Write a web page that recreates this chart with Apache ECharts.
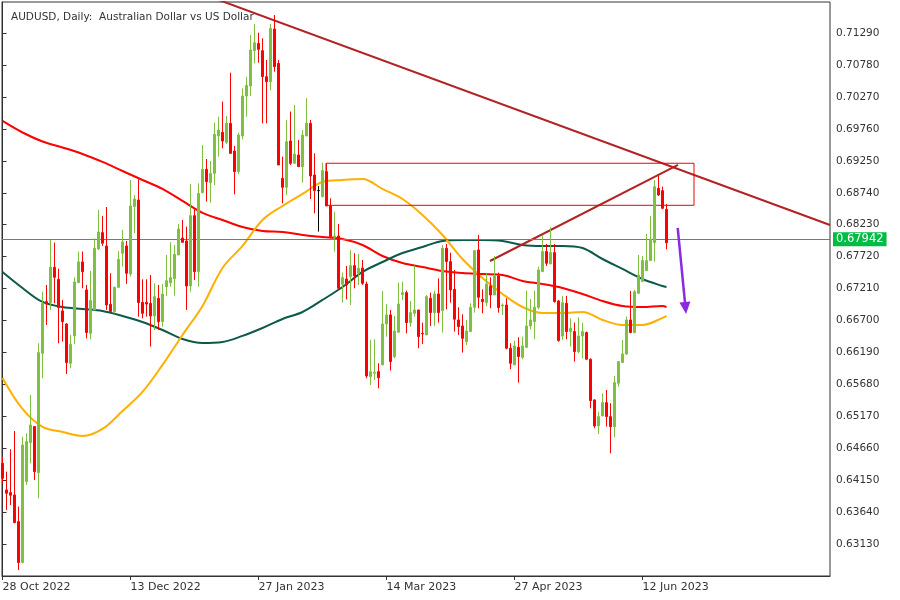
<!DOCTYPE html>
<html><head><meta charset="utf-8">
<script src="https://cdn.jsdelivr.net/npm/echarts@6/dist/echarts.min.js"></script>
<style>html,body{margin:0;padding:0;background:#fff}#c{width:900px;height:600px}</style>
</head><body><div id="c"></div>
<script>
// ---- DATA ----
const openP = [0.64422,0.63997,0.63954,0.63917,0.63491,0.62837,0.64130,0.64752,0.65008,0.64273,
0.66178,0.67003,0.66987,0.67551,0.67359,0.66854,0.66646,0.66018,0.66455,0.67306,
0.67636,0.67189,0.66497,0.66870,0.67843,0.68104,0.67891,0.66960,0.66843,0.67231,
0.67774,0.67891,0.67444,0.68519,0.68625,0.66991,0.66991,0.66975,0.66773,0.67055,
0.66683,0.67241,0.67305,0.67369,0.67747,0.68018,0.67970,0.67252,0.68375,0.67481,
0.68742,0.69114,0.68901,0.69050,0.69646,0.69705,0.69545,0.69848,0.69407,0.69077,
0.69646,0.70284,0.70444,0.71008,0.71125,0.71008,0.70593,0.70513,0.71354,0.70806,
0.68971,0.68827,0.69567,0.69210,0.69343,0.69157,0.69646,0.69849,0.69024,0.68774,
0.68678,0.69077,0.68529,0.68029,0.68050,0.67279,0.67364,0.67401,0.67577,0.67455,
0.67540,0.67284,0.65805,0.65859,0.65885,0.65992,0.66646,0.66790,0.66125,0.66513,
0.67114,0.67146,0.66667,0.66816,0.66869,0.66497,0.66471,0.67056,0.66827,0.67125,
0.66859,0.67854,0.67641,0.67199,0.66710,0.66614,0.66364,0.66524,0.66912,0.67827,
0.67040,0.66987,0.67253,0.67109,0.67412,0.66933,0.66949,0.66258,0.65992,0.66274,
0.66114,0.66274,0.66614,0.66683,0.66912,0.67481,0.67801,0.67604,0.67785,0.67013,
0.66454,0.66976,0.66524,0.66524,0.66204,0.66454,0.66508,0.66082,0.65433,0.65018,
0.65178,0.65390,0.65167,0.65007,0.65699,0.66029,0.66167,0.66710,0.66508,0.67135,
0.67322,0.67497,0.67657,0.67944,0.68811,0.68774,0.68476];
const closeP = [0.64183,0.63944,0.63912,0.63475,0.62837,0.64715,0.64768,0.65034,0.64289,0.66189,
0.66976,0.66965,0.67551,0.67391,0.66907,0.66683,0.66029,0.66322,0.67316,0.67636,
0.67481,0.66508,0.67019,0.67854,0.68114,0.67934,0.66949,0.66843,0.67231,0.67678,
0.67955,0.67455,0.68529,0.68641,0.66987,0.66816,0.66965,0.66773,0.67082,0.66683,
0.67124,0.67337,0.67385,0.67757,0.68162,0.67949,0.67252,0.68375,0.67481,0.68731,
0.69114,0.68917,0.69050,0.69673,0.69742,0.69566,0.69848,0.69369,0.69077,0.69662,
0.70284,0.70455,0.71019,0.71136,0.71029,0.70593,0.70513,0.71364,0.70753,0.69183,
0.68827,0.69556,0.69210,0.69359,0.69157,0.69662,0.69849,0.69008,0.68774,0.68774,
0.69093,0.68529,0.68040,0.68050,0.67215,0.67385,0.67268,0.67577,0.67412,0.67534,
0.67295,0.65816,0.65885,0.65875,0.65789,0.66646,0.66790,0.66045,0.66534,0.66965,
0.67146,0.66667,0.66827,0.66869,0.66444,0.66487,0.67082,0.66827,0.67125,0.66827,
0.67854,0.67641,0.67189,0.66721,0.66604,0.66417,0.66534,0.66912,0.67817,0.67072,
0.67003,0.67285,0.67109,0.67412,0.66907,0.66949,0.66258,0.66018,0.66295,0.66125,
0.66295,0.66614,0.66710,0.66912,0.67508,0.67801,0.67614,0.67785,0.67003,0.66380,
0.66986,0.66524,0.66577,0.66204,0.66454,0.66524,0.66082,0.65422,0.65018,0.65167,
0.65390,0.65167,0.65007,0.65710,0.66045,0.66167,0.66710,0.66508,0.67162,0.67428,
0.67657,0.67657,0.67997,0.68838,0.68705,0.68492,0.67942];
const lowP = [0.64103,0.63678,0.63757,0.63465,0.62720,0.62826,0.64077,0.64422,0.64156,0.63864,
0.65779,0.66630,0.66870,0.66976,0.66338,0.66364,0.65848,0.65939,0.66322,0.67295,
0.67215,0.66417,0.66401,0.66870,0.67827,0.67891,0.66870,0.66843,0.66816,0.67215,
0.67561,0.67285,0.67402,0.68093,0.66763,0.66736,0.66763,0.66284,0.66550,0.66550,
0.66603,0.67092,0.67241,0.67098,0.67747,0.67949,0.66869,0.67162,0.67348,0.67241,
0.68731,0.68598,0.68582,0.68864,0.69316,0.69449,0.69518,0.69359,0.68715,0.69040,
0.69593,0.69955,0.70284,0.70806,0.70816,0.69848,0.69848,0.70380,0.70673,0.69183,
0.68572,0.68705,0.69184,0.69210,0.69157,0.68902,0.69646,0.68641,0.68412,0.68120,
0.68667,0.68529,0.68013,0.67800,0.67215,0.66986,0.67040,0.66949,0.67215,0.67268,
0.67270,0.65779,0.65672,0.65752,0.65619,0.65992,0.66444,0.65901,0.66098,0.66508,
0.67029,0.66497,0.66603,0.66763,0.66258,0.66327,0.66471,0.66614,0.66614,0.66667,
0.66508,0.66880,0.66987,0.66524,0.66471,0.66189,0.66311,0.66524,0.66827,0.66896,
0.66816,0.66933,0.66896,0.67109,0.66827,0.66790,0.66242,0.65923,0.65992,0.65710,
0.66082,0.66258,0.66561,0.66401,0.66880,0.67481,0.67572,0.67604,0.66987,0.66364,
0.66391,0.66401,0.66284,0.66045,0.66178,0.66098,0.66082,0.65300,0.64981,0.64890,
0.65178,0.65007,0.64582,0.64837,0.65646,0.66029,0.66151,0.66497,0.66497,0.67135,
0.67322,0.67497,0.67657,0.67641,0.68689,0.68476,0.67838];
const highP = [0.64529,0.64289,0.64646,0.64938,0.63731,0.64848,0.64901,0.65513,0.65008,0.66338,
0.67162,0.67269,0.67987,0.67944,0.67529,0.67029,0.66657,0.66471,0.67391,0.67801,
0.67801,0.67269,0.67492,0.68013,0.68466,0.68370,0.68513,0.67455,0.67242,0.67811,
0.68146,0.67971,0.68944,0.68705,0.68955,0.67358,0.67358,0.67428,0.67295,0.67268,
0.67284,0.67747,0.67949,0.67906,0.68242,0.68305,0.68199,0.68880,0.68476,0.68891,
0.69502,0.69279,0.69247,0.69859,0.69955,0.70194,0.69965,0.70657,0.69486,0.69699,
0.70407,0.70593,0.71258,0.71434,0.71295,0.71205,0.70859,0.71434,0.71577,0.70859,
0.69317,0.69902,0.70035,0.70141,0.69583,0.69742,0.70250,0.69902,0.69370,0.68848,
0.69221,0.69210,0.68652,0.68439,0.68242,0.67465,0.67572,0.67827,0.67774,0.67763,
0.67667,0.67322,0.66391,0.66401,0.66018,0.67173,0.66965,0.66869,0.66774,0.67306,
0.67322,0.67178,0.67013,0.67577,0.66869,0.66667,0.67109,0.67146,0.67178,0.67375,
0.67907,0.67923,0.67785,0.67508,0.66912,0.66800,0.66710,0.66976,0.67827,0.68067,
0.67199,0.67455,0.67391,0.67731,0.67465,0.66976,0.67056,0.66338,0.66380,0.66433,
0.66444,0.67178,0.67040,0.67178,0.67561,0.68067,0.67923,0.68189,0.67923,0.67029,
0.67093,0.67093,0.66736,0.66667,0.66752,0.66667,0.66524,0.66098,0.65444,0.65247,
0.65539,0.65593,0.65380,0.65816,0.66045,0.66391,0.66763,0.67173,0.67189,0.67747,
0.67731,0.68082,0.68370,0.68944,0.69008,0.68838,0.68561];

// moving averages, sampled at bar indices
const maIdx = [0,5,10,15,20,25,30,35,40,45,50,55,60,65,70,75,80,85,90,95,100,105,110,115,120,125,130,135,140,145,150,155,160,165,166];
const ma200 = [0.69886,0.69702,0.69559,0.69463,0.69359,0.69232,0.69088,0.68944,0.68801,0.68609,0.68418,0.68306,0.68194,0.68130,0.68114,0.68066,0.68034,0.68003,0.67907,0.67731,0.67620,0.67556,0.67492,0.67460,0.67444,0.67428,0.67332,0.67284,0.67221,0.67125,0.67013,0.66933,0.66917,0.66933,0.66917];
const ma100 = [0.67476,0.67220,0.66997,0.66917,0.66885,0.66853,0.66774,0.66678,0.66550,0.66407,0.66343,0.66359,0.66455,0.66582,0.66726,0.66837,0.67029,0.67236,0.67476,0.67635,0.67779,0.67875,0.67971,0.67987,0.67987,0.67971,0.67907,0.67891,0.67891,0.67859,0.67683,0.67524,0.67364,0.67252,0.67236];
const ma50 = [0.65784,0.65289,0.65002,0.64922,0.64858,0.64970,0.65257,0.65561,0.65992,0.66470,0.66933,0.67540,0.67891,0.68306,0.68529,0.68721,0.68912,0.68944,0.68960,0.68801,0.68641,0.68386,0.68066,0.67683,0.67380,0.67125,0.66917,0.66822,0.66822,0.66838,0.66710,0.66630,0.66630,0.66742,0.66774];

// y-axis tick labels
const yTicks = [0.71290,0.70780,0.70270,0.69760,0.69250,0.68740,0.68230,0.67720,0.67210,0.66700,0.66190,0.65680,0.65170,0.64660,0.64150,0.63640,0.63130];
// x-axis labelled bars
const xTickBars = [0,32,64,96,128,160];
const bidPrice = 0.67942;

// drawn objects: [barIndex, price]
const longTrend = [[50,0.71913],[206.875,0.68226]];
const shortTrend = [[121.875,0.67651],[168.875,0.69184]];
const zoneBars = [80.875,172.875];
const zonePrices = [0.69211,0.68540];
const arrowPts = [[168.8,0.68178],[170.75,0.66901]];

// trading dates
const holidays = ['2022-12-26'];
const MON = ['Jan','Feb','Mar','Apr','May','Jun','Jul','Aug','Sep','Oct','Nov','Dec'];
const dates = [];
(function(){
  let d = new Date(Date.UTC(2022,9,28));
  while (dates.length < openP.length) {
    const wd = d.getUTCDay();
    const iso = d.toISOString().slice(0,10);
    if (wd !== 0 && wd !== 6 && holidays.indexOf(iso) < 0) {
      dates.push(d.getUTCDate() + ' ' + MON[d.getUTCMonth()] + ' ' + d.getUTCFullYear());
    }
    d = new Date(d.getTime() + 86400000);
  }
})();

const candles = dates.map((_, i) => [i, openP[i], closeP[i], lowP[i], highP[i]]);
const FONT = 'DejaVu Sans';
const TXT = '#333333';

const chart = echarts.init(document.getElementById('c'), null, {renderer:'canvas'});
const maSeries = (name, vals, color) => ({
  type:'line', name, data: maIdx.map((b,k)=>[b, vals[k]]), showSymbol:false, smooth:0.35,
  lineStyle:{color, width:2}, itemStyle:{color}, z:3, silent:true, clip:true
});
chart.setOption({
  animation:false,
  backgroundColor:'#ffffff',
  title:{text:'AUDUSD, Daily:  Australian Dollar vs US Dollar', left:6, top:7,
    textStyle:{fontFamily:FONT, fontSize:10.5, fontWeight:'normal', color:TXT}},
  grid:{left:2, right:70, top:2, bottom:24, show:true, borderColor:'#333', borderWidth:1, outerBoundsMode:'none'},
  xAxis:{type:'value', min:-0.125, max:206.875,
    axisLine:{show:true, lineStyle:{color:'#333', width:1}},
    axisTick:{show:true, customValues:xTickBars, length:4, lineStyle:{color:'#333'}},
    axisLabel:{customValues:xTickBars, formatter:v=>dates[Math.round(v)], align:'left', margin:6,
      fontFamily:FONT, fontSize:11, color:TXT},
    splitLine:{show:false}},
  yAxis:{type:'value', position:'right', min:0.62623, max:0.71785, scale:true,
    axisLine:{show:true, lineStyle:{color:'#333', width:1}},
    axisTick:{show:true, customValues:yTicks, length:4, lineStyle:{color:'#333'}},
    axisLabel:{customValues:yTicks, formatter:v=>v.toFixed(5), margin:6,
      fontFamily:FONT, fontSize:10.5, color:TXT},
    splitLine:{show:false}},
  series:[
    maSeries('MA200', ma200, '#ff0000'),
    maSeries('MA100', ma100, '#0c5a4a'),
    maSeries('MA50', ma50, '#ffb000'),
    {type:'candlestick', data:candles, encode:{x:0, y:[1,2,3,4]}, barWidth:2, z:5,
      itemStyle:{color:'#80c040', color0:'#ff0000', borderColor:'#80c040', borderColor0:'#ff0000', borderColorDoji:'#000000', borderWidth:1},
      markLine:{silent:true, symbol:['none','none'], animation:false,
        data:[{yAxis:bidPrice}],
        lineStyle:{color:'#00c040', width:1, type:'solid'},
        label:{show:true, position:'end', distance:3, formatter:bidPrice.toFixed(5),
          backgroundColor:'#00bb44', color:'#ffffff', padding:[1,3,1,3], fontFamily:FONT, fontSize:11.5}}},
    {type:'line', data:longTrend, showSymbol:false, lineStyle:{color:'#b22222', width:2}, z:4, silent:true, clip:true},
    {type:'line', data:shortTrend, showSymbol:false, lineStyle:{color:'#b22222', width:2}, z:4, silent:true, clip:true},
    {type:'line', data:[[zoneBars[0],zonePrices[0]],[zoneBars[1],zonePrices[0]],[zoneBars[1],zonePrices[1]],[zoneBars[0],zonePrices[1]],[zoneBars[0],zonePrices[0]]],
      showSymbol:false, lineStyle:{color:'#ee0000', width:1}, z:4, silent:true},
    {type:'line', data:[], z:6,
      markLine:{silent:true, animation:false, symbol:['none','triangle'], symbolSize:[11,12],
        lineStyle:{color:'#8a2be2', width:2.5, type:'solid'}, label:{show:false},
        data:[[{coord:arrowPts[0]},{coord:arrowPts[1]}]]}}
  ]
});
</script></body></html>
